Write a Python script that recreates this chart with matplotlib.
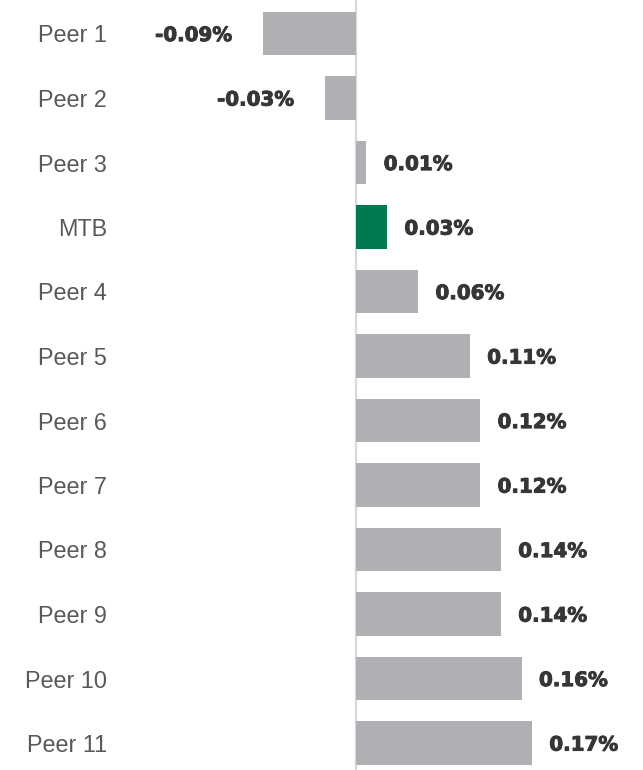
import matplotlib
matplotlib.use("Agg")
import matplotlib.pyplot as plt
import matplotlib.patheffects as pe

categories = ["Peer 1", "Peer 2", "Peer 3", "MTB", "Peer 4", "Peer 5", "Peer 6",
              "Peer 7", "Peer 8", "Peer 9", "Peer 10", "Peer 11"]
values = [-0.09, -0.03, 0.01, 0.03, 0.06, 0.11, 0.12, 0.12, 0.14, 0.14, 0.16, 0.17]
labels = ["-0.09%", "-0.03%", "0.01%", "0.03%", "0.06%", "0.11%", "0.12%",
          "0.12%", "0.14%", "0.14%", "0.16%", "0.17%"]
highlight = "MTB"

GRAY = "#B0AFB4"
GREEN = "#007A53"
TXT = "#363636"

fig = plt.figure(figsize=(6.43, 7.70), dpi=100)
W, H = 643, 770
ax = fig.add_axes([120 / W, 0, 1 - 120 / W, 1])

ypos = list(range(len(categories)))
colors = [GREEN if c == highlight else GRAY for c in categories]
ax.barh(ypos, values, height=0.667, color=colors, zorder=2)
ax.axvline(0, color="#D9D9D9", linewidth=1.6, zorder=1)

scale = 1035.0
ax.set_xlim(-(356 - 120) / scale, (643 - 356) / scale)
ax.set_ylim((770 - 33.5) / 64.5, -33.5 / 64.5)

stroke = [pe.withStroke(linewidth=0.7, foreground=TXT)]
for y, v, lab in zip(ypos, values, labels):
    if v >= 0:
        xt, ha = 12.5, "left"
    else:
        xt, ha = -22, "right"
    ax.annotate(lab, (v, y), xytext=(xt, -1.5), textcoords="offset points",
                ha=ha, va="center", fontsize=14.3, fontweight="bold",
                color=TXT, family="DejaVu Sans", path_effects=stroke)

ax.set_yticks(ypos)
ax.set_yticklabels(categories, family="Liberation Sans", fontsize=16.8, color="#595959")
ax.tick_params(axis="y", length=0, pad=9.4)
ax.set_xticks([])
for s in ax.spines.values():
    s.set_visible(False)

fig.savefig("out.png", dpi=100)
